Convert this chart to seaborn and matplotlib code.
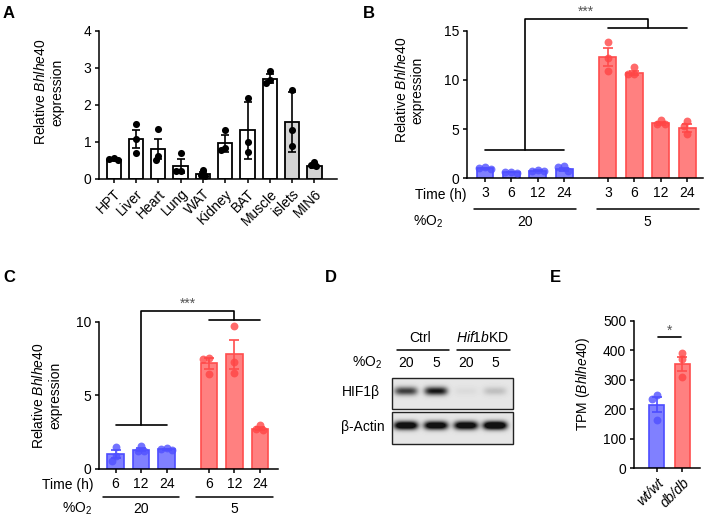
import numpy as np
import pandas as pd
import matplotlib
matplotlib.use('Agg')
import matplotlib.pyplot as plt
from matplotlib.patches import Rectangle
import seaborn as sns

sns.set_style('ticks')
plt.rcParams['font.family'] = ['Liberation Sans', 'DejaVu Sans']
plt.rcParams.update({
    'font.size': 10,
    'mathtext.fontset': 'custom',
    'mathtext.rm': 'Liberation Sans',
    'mathtext.it': 'Liberation Sans:italic',
    'axes.linewidth': 1.1,
    'axes.edgecolor': 'black',
    'axes.labelcolor': 'black',
    'text.color': 'black',
    'xtick.color': 'black',
    'ytick.color': 'black',
    'xtick.major.width': 1.1,
    'ytick.major.width': 1.1,
    'xtick.major.size': 3,
    'ytick.major.size': 3,
    'xtick.major.pad': 2.5,
    'ytick.major.pad': 2.5,
})

# ---- data ----
tissues = ['HPT', 'Liver', 'Heart', 'Lung', 'WAT', 'Kidney', 'BAT', 'Muscle', 'islets', 'MIN6']
a_mean = [0.51, 1.07, 0.81, 0.35, 0.14, 0.96, 1.31, 2.70, 1.53, 0.36]
a_err = [0.03, 0.24, 0.27, 0.20, 0.05, 0.24, 0.78, 0.12, 0.81, 0.05]
a_pts = [[0.50, 0.56, 0.54], [1.49, 1.08, 0.69], [1.34, 0.61, 0.51], [0.69, 0.21, 0.21],
         [0.23, 0.12, 0.07], [1.31, 0.79, 0.83], [2.18, 1.01, 0.74], [2.90, 2.59, 2.66],
         [2.41, 1.33, 0.88], [0.47, 0.38, 0.36]]
a_fill = ['white'] * 8 + ['#d4d4d4'] * 2

b_time = ['3', '6', '12', '24']
b_norm_mean = [1.0, 0.62, 0.78, 0.9]
b_norm_err = [0.06, 0.03, 0.05, 0.15]
b_norm_pts = [[1.1, 1.0, 0.9], [0.68, 0.6, 0.58], [0.88, 0.72, 0.75], [1.2, 1.15, 0.7]]
b_hyp_mean = [12.3, 10.7, 5.6, 5.15]
b_hyp_err = [0.9, 0.25, 0.15, 0.4]
b_hyp_pts = [[13.9, 12.2, 10.9], [11.3, 10.6, 10.6], [5.95, 5.5, 5.5], [5.8, 5.3, 4.5]]

c_time = ['6', '12', '24']
c_norm_mean = [1.0, 1.3, 1.33]
c_norm_err = [0.26, 0.1, 0.05]
c_norm_pts = [[1.47, 0.9, 0.57], [1.58, 1.24, 1.24], [1.45, 1.33, 1.3]]
c_hyp_mean = [7.17, 7.78, 2.72]
c_hyp_err = [0.35, 1.0, 0.1]
c_hyp_pts = [[7.56, 7.5, 6.45], [9.7, 7.29, 6.54], [2.99, 2.7, 2.65]]

o2_levels = ['20', '5']

d_groups = ['Ctrl', r'$\it{Hif1b}$KD']
d_o2 = ['20', '5', '20', '5']
d_hif1b = [0.8, 1.0, 0.05, 0.18]
d_actin = [1.4, 1.35, 1.35, 1.5]

e_geno = ['wt/wt', 'db/db']
e_mean = [215, 354]
e_err = [26, 25]
e_pts = [[249, 236, 164], [391, 370, 310]]

# ---- colours ----
BLUE_FACE, BLUE_EDGE, BLUE_DOT = '#8080ff', '#4d4dff', '#5050ff'
RED_FACE, RED_EDGE, RED_DOT = '#ff8080', '#ff4d4d', '#ff4545'
W, H = 709, 522


def px_axes(fig, left, top, right, bottom):
    return fig.add_axes([left / W, 1 - bottom / H, (right - left) / W, (bottom - top) / H])


def swarm_offsets(ax, x, vals, d_px):
    # simple beeswarm in pixel space, overlap allowed down to d_px
    vals = np.asarray(vals, float)
    ypx = ax.transData.transform(np.column_stack([np.full(len(vals), x), vals]))[:, 1]
    px_per_x = ax.transData.transform([[1, 0]])[0, 0] - ax.transData.transform([[0, 0]])[0, 0]
    off = np.zeros(len(vals))
    placed = []
    for i in np.argsort(-vals):
        cands = [0.0]
        for ox, oy in placed:
            dy = abs(ypx[i] - oy)
            if dy < d_px:
                w = np.sqrt(d_px ** 2 - dy ** 2)
                cands += [ox - w, ox + w]
        cands.sort(key=abs)
        for c in cands:
            if all((c - ox) ** 2 + (ypx[i] - oy) ** 2 >= d_px ** 2 - 1e-6 for ox, oy in placed):
                off[i] = c
                break
        placed.append((off[i], ypx[i]))
    return off / px_per_x


def dots(ax, pos, pts, color, alpha, d_px, s):
    xs, ys = [], []
    for p, v in zip(pos, pts):
        xs.extend(p + swarm_offsets(ax, p, v, d_px))
        ys.extend(v)
    sns.scatterplot(x=xs, y=ys, color=color, alpha=alpha, s=s, linewidth=0, ax=ax, zorder=4)


def bar_group(ax, pos, mean, err, face, edge):
    df = pd.DataFrame({'x': pos, 'y': mean})
    sns.barplot(data=df, x='x', y='y', native_scale=True, color=face, saturation=1,
                edgecolor=edge, linewidth=1.2, width=0.64, errorbar=None, ax=ax)
    ax.errorbar(pos, mean, yerr=err, fmt='none', ecolor=edge, elinewidth=1.2,
                capsize=3.5, capthick=1.2, zorder=3)


def bracket(ax, g1, g2, y_low, y_high, y_top, stars):
    kw = dict(color='black', lw=1.2, clip_on=False)
    m1, m2 = np.mean(g1), np.mean(g2)
    ax.plot([g1[0], g1[-1]], [y_low, y_low], **kw)
    ax.plot([g2[0], g2[-1]], [y_high, y_high], **kw)
    ax.plot([m1, m1, m2, m2], [y_low, y_top, y_top, y_high], **kw)
    ax.text((m1 + m2) / 2, y_top, stars, ha='center', va='bottom', color='#555555', fontsize=10)


def group_axis(ax, pos_list, times, line_y, lab_y, half):
    ax.set_xticks(np.concatenate(pos_list))
    ax.set_xticklabels(times * len(pos_list))
    trans = ax.get_xaxis_transform()
    for pos, lev in zip(pos_list, o2_levels):
        ax.plot([pos[0] - half, pos[-1] + half], [line_y, line_y], transform=trans,
                color='black', lw=1.1, clip_on=False)
        ax.text(np.mean(pos), lab_y, lev, transform=trans, ha='center', va='center')


fig = plt.figure(figsize=(W / 100, H / 100), dpi=100)
ov = fig.add_axes([0, 0, 1, 1])
ov.axis('off')

# ---- A ----
ax = px_axes(fig, 99, 30.7, 336.7, 179)
df_a = pd.DataFrame({'tissue': tissues, 'mean': a_mean})
sns.barplot(data=df_a, x='tissue', y='mean', hue='tissue', palette=a_fill, saturation=1,
            edgecolor='black', linewidth=1.3, width=0.64, errorbar=None, legend=False, ax=ax)
ax.errorbar(np.arange(len(tissues)), a_mean, yerr=a_err, fmt='none', ecolor='black',
            elinewidth=1.2, capsize=3, capthick=1.2, zorder=3)
ax.set_ylim(0, 4)
ax.set_xlim(-0.66, 10.0)
dots(ax, np.arange(len(tissues)), a_pts, 'black', 1.0, 4.5, 26)
ax.set_ylim(0, 4)
ax.set_xlim(-0.66, 10.0)
ax.set_yticks([0, 1, 2, 3, 4])
ax.set_xticks(np.arange(len(tissues)))
ax.set_xticklabels(tissues, rotation=45, ha='right', rotation_mode='anchor')
ax.set_xlabel('')
ax.set_ylabel('Relative $\\it{Bhlhe40}$\nexpression')
ax.yaxis.set_label_coords(-0.145, 0.587)
sns.despine(ax=ax)

# ---- B ----
ax = px_axes(fig, 467.3, 30.7, 703, 178.3)
pos_n = np.arange(len(b_time), dtype=float)
pos_h = pos_n + len(b_time) + 0.65
bar_group(ax, pos_n, b_norm_mean, b_norm_err, BLUE_FACE, BLUE_EDGE)
bar_group(ax, pos_h, b_hyp_mean, b_hyp_err, RED_FACE, RED_EDGE)
ax.set_ylim(0, 15)
ax.set_xlim(-0.67, 8.25)
dots(ax, pos_n, b_norm_pts, BLUE_DOT, 0.8, 6, 32)
dots(ax, pos_h, b_hyp_pts, RED_DOT, 0.8, 6, 32)
ax.set_ylim(0, 15)
ax.set_xlim(-0.67, 8.25)
ax.set_yticks([0, 5, 10, 15])
group_axis(ax, [pos_n, pos_h], b_time, -0.21, -0.294, 0.43)
bracket(ax, pos_n, pos_h, 2.9, 15.3, 16.2, '***')
ax.set_xlabel('')
ax.set_ylabel('Relative $\\it{Bhlhe40}$\nexpression')
ax.yaxis.set_label_coords(-0.18, 0.598)
sns.despine(ax=ax)

# ---- C ----
ax = px_axes(fig, 99, 321.7, 278.3, 469)
pos_n = np.arange(len(c_time), dtype=float)
pos_h = pos_n + len(c_time) + 0.66
bar_group(ax, pos_n, c_norm_mean, c_norm_err, BLUE_FACE, BLUE_EDGE)
bar_group(ax, pos_h, c_hyp_mean, c_hyp_err, RED_FACE, RED_EDGE)
ax.set_ylim(0, 10)
ax.set_xlim(-0.65, 6.38)
dots(ax, pos_n, c_norm_pts, BLUE_DOT, 0.8, 6, 32)
dots(ax, pos_h, c_hyp_pts, RED_DOT, 0.8, 6, 32)
ax.set_ylim(0, 10)
ax.set_xlim(-0.65, 6.38)
ax.set_yticks([0, 5, 10])
group_axis(ax, [pos_n, pos_h], c_time, -0.192, -0.274, 0.5)
bracket(ax, pos_n, pos_h, 3.0, 10.14, 10.73, '***')
ax.set_xlabel('')
ax.set_ylabel('Relative $\\it{Bhlhe40}$\nexpression')
ax.yaxis.set_label_coords(-0.206, 0.5)
sns.despine(ax=ax)

# ---- E ----
ax = px_axes(fig, 634, 321, 700, 468)
df_e = pd.DataFrame({'geno': e_geno, 'mean': e_mean})
sns.barplot(data=df_e, x='geno', y='mean', hue='geno', palette=[BLUE_FACE, RED_FACE],
            saturation=1, linewidth=1.2, width=0.6, errorbar=None, legend=False, ax=ax)
for patch, ec in zip(ax.patches, [BLUE_EDGE, RED_EDGE]):
    patch.set_edgecolor(ec)
for i, ec in enumerate([BLUE_EDGE, RED_EDGE]):
    ax.errorbar(i, e_mean[i], yerr=e_err[i], fmt='none', ecolor=ec, elinewidth=1.2,
                capsize=3.5, capthick=1.2, zorder=3)
ax.set_ylim(0, 500)
ax.set_xlim(-0.88, 1.69)
dots(ax, [0], e_pts[:1], BLUE_DOT, 0.8, 6, 32)
dots(ax, [1], e_pts[1:], RED_DOT, 0.8, 6, 32)
ax.set_ylim(0, 500)
ax.set_xlim(-0.88, 1.69)
ax.set_yticks(range(0, 501, 100))
ax.set_xticks([0, 1])
ax.set_xticklabels(e_geno, rotation=45, ha='right', rotation_mode='anchor', style='italic')
ax.plot([0.05, 0.95], [444, 444], color='black', lw=1.2, clip_on=False)
ax.text(0.5, 444, '*', ha='center', va='bottom', color='#555555', fontsize=10)
ax.set_xlabel('')
ax.set_ylabel('TPM ($\\it{Bhlhe40}$)')
ax.yaxis.set_label_coords(-0.64, 0.576)
sns.despine(ax=ax)

# ---- D (western blot, drawn from band intensities) ----
lane_x = [406, 436, 466, 495]
box_l, box_r = 392, 513


def blot(intens, top, bottom, half_w, sig_y, bg):
    w, h = box_r - box_l, bottom - top
    xs = np.arange(w) + 0.5
    ys = np.arange(h) + 0.5
    img = np.zeros((h, w))
    for cx, v in zip(lane_x, intens):
        px = np.exp(-np.abs((xs - (cx - box_l)) / half_w) ** 4)
        py = np.exp(-((ys - h * 0.42) / sig_y) ** 2)
        img += v * np.outer(py, px)
    img = bg * (1 - 0.92 * np.clip(img, 0, 1))
    ov.imshow(img, cmap='gray', vmin=0, vmax=1, extent=(box_l, box_r, bottom, top),
              aspect='auto', interpolation='bilinear')
    ov.add_patch(Rectangle((box_l, top), box_r - box_l, bottom - top, fill=False,
                           ec='#222222', lw=1.0))


blot(d_hif1b, 378, 409, 11.5, 4.2, 0.9)
blot(d_actin, 412, 444, 12, 4.2, 0.9)
for gx, (x0, x1), lab in zip([420, 483], [(397, 449), (457, 510)], d_groups):
    ov.text(gx, 338, lab, ha='center', va='center')
    ov.plot([x0, x1], [350, 350], color='black', lw=1.1)
for lx, lab in zip(lane_x, d_o2):
    ov.text(lx, 363, lab, ha='center', va='center')
ov.text(382, 363, '%O$_2$', ha='right', va='center')
ov.text(380, 392, 'HIF1β', ha='right', va='center')
ov.text(385, 427, 'β-Actin', ha='right', va='center')

# ---- free labels ----
ov.text(415, 195, 'Time (h)', ha='left', va='center')
ov.text(413, 222, '%O$_2$', ha='left', va='center')
ov.text(42, 485, 'Time (h)', ha='left', va='center')
ov.text(62, 509, '%O$_2$', ha='left', va='center')
for x, y, s in [(3, 13, 'A'), (363, 13, 'B'), (3, 277, 'C'), (325, 277, 'D'), (550, 277, 'E')]:
    ov.text(x, y, s, fontsize=12, fontweight='bold', ha='left', va='center')

ov.set_xlim(0, W)
ov.set_ylim(H, 0)

fig.savefig('out.png', dpi=100)
